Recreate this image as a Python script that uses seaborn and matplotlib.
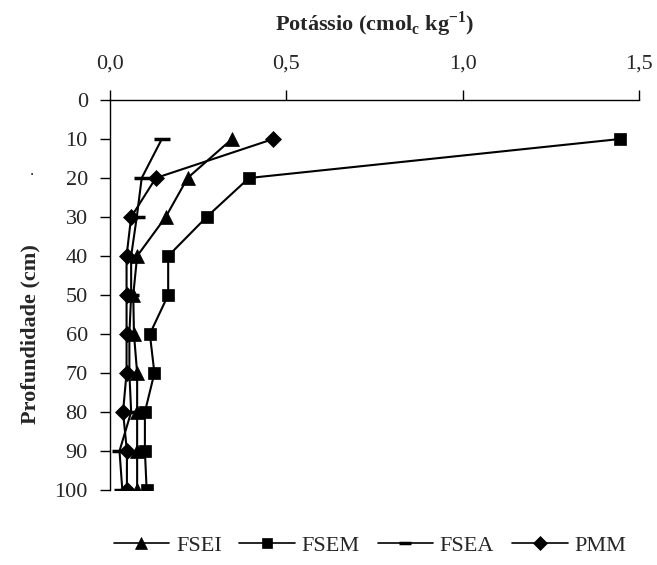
import pandas as pd
import seaborn as sns
import matplotlib.pyplot as plt
from matplotlib.lines import Line2D

# depth (cm) and potassium values (cmolc/kg)
depth = [10, 20, 30, 40, 50, 60, 70, 80, 90, 100]
fsei = [0.346, 0.22, 0.158, 0.077, 0.066, 0.068, 0.077, 0.077, 0.077, 0.077]
fsem = [1.446, 0.394, 0.274, 0.165, 0.165, 0.113, 0.126, 0.099, 0.099, 0.104]
fsea = [0.147, 0.09, 0.076, 0.06, 0.06, 0.055, 0.055, 0.06, 0.027, 0.035]
pmm = [0.463, 0.13, 0.06, 0.047, 0.047, 0.047, 0.047, 0.037, 0.048, 0.048]

names = ['FSEI', 'FSEM', 'FSEA', 'PMM']
series = [fsei, fsem, fsea, pmm]
markers = ['^', 's', '_', 'D']
msizes = [10, 8, 11, 8]

xticks = [0, 0.5, 1.0, 1.5]
xticklabels = ['0,0', '0,5', '1,0', '1,5']
yticks = [0, 10, 20, 30, 40, 50, 60, 70, 80, 90, 100]

sns.set_style("ticks")
plt.rcParams['font.family'] = ['Liberation Serif', 'DejaVu Serif']
plt.rcParams['mathtext.fontset'] = 'custom'
plt.rcParams['mathtext.rm'] = 'Liberation Serif'
plt.rcParams['mathtext.bf'] = 'Liberation Serif:bold'

fig = plt.figure(figsize=(6.57, 5.65), dpi=100)
ax = fig.add_axes([0.1674, 0.1327, 0.8052, 0.6903])

handles = []
for name, vals, m, ms in zip(names, series, markers, msizes):
    df = pd.DataFrame({'k': vals, 'depth': depth})
    mew = 2.5 if m == '_' else 0.5
    sns.lineplot(data=df, x='k', y='depth', orient='y', sort=False, ax=ax,
                 color='black', lw=1.5, marker=m, markersize=ms,
                 markeredgewidth=mew, markeredgecolor='black')
    handles.append(Line2D([], [], color='black', lw=1.2, marker=m,
                          markersize=ms * 0.85, markeredgewidth=mew))

ax.set_xlim(0, 1.5)
ax.set_ylim(100, 0)
ax.xaxis.tick_top()
ax.xaxis.set_label_position('top')
ax.set_xticks(xticks)
ax.set_xticklabels(xticklabels)
ax.set_yticks(yticks)
ax.tick_params(labelsize=16, length=7, width=1, color='black')
ax.tick_params(axis='x', pad=12)
ax.tick_params(axis='y', pad=9)
ax.set_xlabel(r'Potássio (cmol$_\mathbf{c}$ kg$^{\mathbf{-1}}$)', fontsize=16,
              fontweight='bold', labelpad=17)
ax.set_ylabel('Profundidade (cm)', fontsize=16, fontweight='bold')
ax.yaxis.set_label_coords(-0.131, 0.4)

for side in ['right', 'bottom']:
    ax.spines[side].set_visible(False)
for side in ['top', 'left']:
    ax.spines[side].set_color('black')
    ax.spines[side].set_linewidth(1)

fig.text(0.046, 0.69, '.', fontsize=12)

fig.legend(handles, names, loc='center', bbox_to_anchor=(0.563, 0.035), ncol=4,
           frameon=False, fontsize=16, handlelength=2.5, handletextpad=0.3,
           columnspacing=0.8)

plt.savefig('out.png', dpi=100)
